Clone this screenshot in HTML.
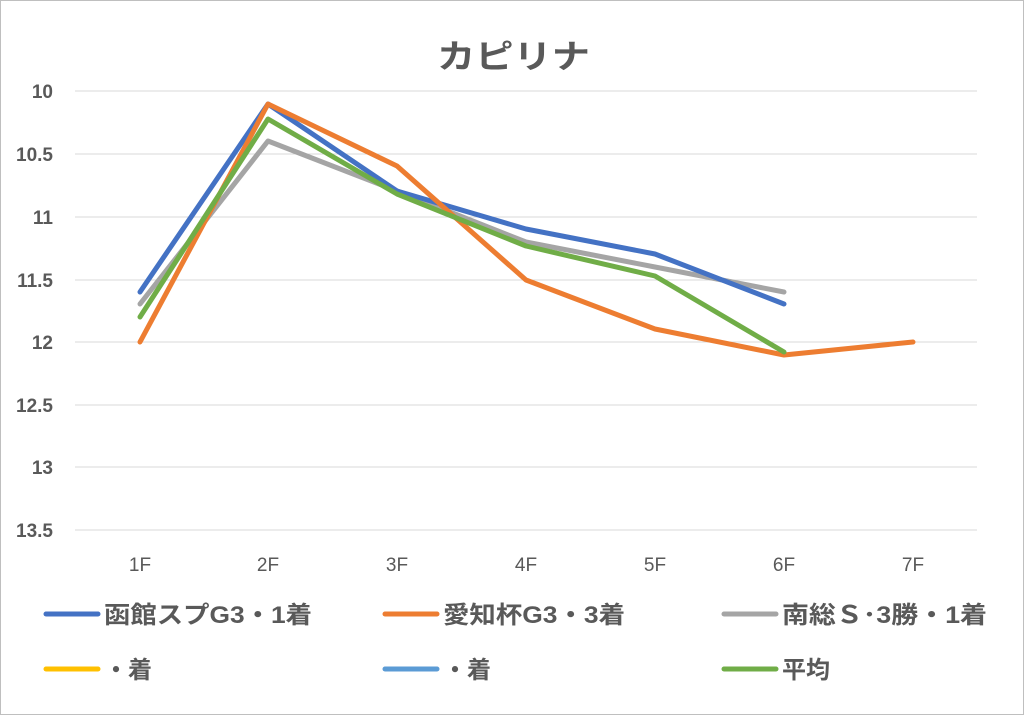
<!DOCTYPE html>
<html><head><meta charset="utf-8"><style>
body{margin:0;background:#fff}
svg{display:block}
text{font-family:"Liberation Sans","Noto Sans CJK JP",sans-serif}
</style></head><body>
<svg width="1024" height="715" viewBox="0 0 1024 715" xmlns="http://www.w3.org/2000/svg">
<rect x="0.5" y="0.5" width="1023" height="714" fill="#fff" stroke="#bfbfbf"/>
<text x="437" y="68" font-size="33" font-weight="bold" fill="#595959" textLength="153" lengthAdjust="spacingAndGlyphs">カピリナ</text>
<g stroke="#d9d9d9" stroke-width="1">
<line x1="75" x2="977" y1="91" y2="91"/><line x1="75" x2="977" y1="154" y2="154"/>
<line x1="75" x2="977" y1="217" y2="217"/><line x1="75" x2="977" y1="280" y2="280"/>
<line x1="75" x2="977" y1="342" y2="342"/><line x1="75" x2="977" y1="405" y2="405"/>
<line x1="75" x2="977" y1="467" y2="467"/><line x1="75" x2="977" y1="530" y2="530"/>
</g>
<g font-size="19" font-weight="bold" fill="#595959" text-anchor="end">
<text x="53" y="98">10</text><text x="53" y="161">10.5</text><text x="53" y="224">11</text>
<text x="53" y="287">11.5</text><text x="53" y="349">12</text><text x="53" y="412">12.5</text>
<text x="53" y="474">13</text><text x="53" y="537">13.5</text>
</g>
<g font-size="19" fill="#595959" text-anchor="middle">
<text x="140" y="571">1F</text><text x="268" y="571">2F</text><text x="397" y="571">3F</text>
<text x="526" y="571">4F</text><text x="655" y="571">5F</text><text x="784" y="571">6F</text><text x="913" y="571">7F</text>
</g>
<g fill="none" stroke-width="5" stroke-linejoin="round" stroke-linecap="round">
<polyline stroke="#a5a5a5" points="140,304 268,141 397,191 526,242 655,267 784,292"/>
<polyline stroke="#4472c4" points="140,292 268,104 397,191 526,229 655,254 784,304"/>
<polyline stroke="#ed7d31" points="140,342 268,104 397,166 526,280 655,329 784,355 913,342"/>
<polyline stroke="#70ad47" points="140,317 268,119 397,194 526,246 655,276 784,352"/>
</g>
<g stroke-width="5" stroke-linecap="round">
<line x1="46" x2="98" y1="614" y2="614" stroke="#4472c4"/>
<line x1="385" x2="437" y1="614" y2="614" stroke="#ed7d31"/>
<line x1="724" x2="776" y1="614" y2="614" stroke="#a5a5a5"/>
<line x1="46" x2="98" y1="669" y2="669" stroke="#ffc000"/>
<line x1="385" x2="437" y1="669" y2="669" stroke="#5b9bd5"/>
<line x1="724" x2="776" y1="669" y2="669" stroke="#70ad47"/>
</g>
<g font-size="24" font-weight="bold" fill="#595959">
<text x="104" y="623" textLength="208" lengthAdjust="spacingAndGlyphs">函館スプG3・1着</text>
<text x="443" y="623" textLength="182" lengthAdjust="spacingAndGlyphs">愛知杯G3・3着</text>
<text x="782" y="623" textLength="205" lengthAdjust="spacingAndGlyphs">南総Ｓ･3勝・1着</text>
<text x="104" y="678">・着</text>
<text x="443" y="678">・着</text>
<text x="782" y="678">平均</text>
</g>
</svg>
</body></html>
